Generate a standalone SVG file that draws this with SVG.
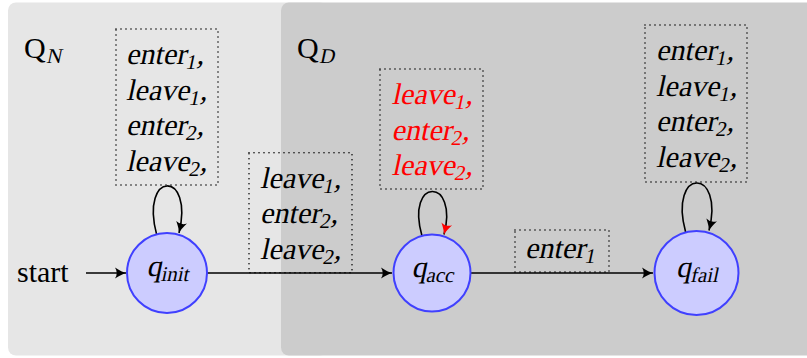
<svg xmlns="http://www.w3.org/2000/svg" width="807" height="358" viewBox="0 0 807 358">
<style>
.t{font-family:"Liberation Serif","Times New Roman",serif;font-size:30px;font-style:normal;fill:#000}
.r{font-family:"Liberation Serif","Times New Roman",serif;font-size:30px;fill:#000}
.s{font-size:21px}
.red{fill:#ff0000}
.box{fill:none;stroke:#000;stroke-width:1.6;stroke-linecap:round;stroke-dasharray:0 5}
.node{fill:#ccccff;stroke:#4040ff;stroke-width:2}
.edge{fill:none;stroke:#000;stroke-width:1.6}
</style>
<defs>
<marker id="ah" viewBox="-12 -6 13 12" markerWidth="13" markerHeight="12" refX="0" refY="0" orient="auto" markerUnits="userSpaceOnUse">
<path d="M-11,-5.5 Q-4,-1 0,0 Q-4,1 -11,5.5 Q-7.5,0 -11,-5.5 z" fill="#000"/>
</marker>
<marker id="ahr" viewBox="-12 -6 13 12" markerWidth="13" markerHeight="12" refX="0" refY="0" orient="auto" markerUnits="userSpaceOnUse">
<path d="M-11,-5.5 Q-4,-1 0,0 Q-4,1 -11,5.5 Q-7.5,0 -11,-5.5 z" fill="#ff0000"/>
</marker>
</defs>
<g id="backgrounds">
<rect x="8" y="2.5" width="320" height="353" rx="8" fill="#e6e6e6"/>
<rect x="281" y="2.5" width="540" height="353" rx="8" fill="#cccccc"/>
<text class="r" x="24" y="58">Q</text>
<text class="t s" transform="translate(46,63) skewX(-12)">N</text>
<text class="r" x="297" y="58">Q</text>
<text class="t s" transform="translate(319,63) skewX(-12)">D</text>
</g>
<g id="connectors">
<line class="edge" x1="86" y1="273" x2="126" y2="273" marker-end="url(#ah)"/>
<line class="edge" x1="207" y1="273" x2="392" y2="273" marker-end="url(#ah)"/>
<line class="edge" x1="470.5" y1="273" x2="653" y2="273" marker-end="url(#ah)"/>
<path class="edge" d="M156.6,234.4 C139.6,170 194.4,170 179,233" marker-end="url(#ah)"/>
<path class="edge" d="M422,236 C405,177 459,177 444,234.5" stroke="#ff0000" marker-end="url(#ahr)"/>
<path class="edge" d="M685.6,232 C668,167 725,167 709,230.5" marker-end="url(#ah)"/>
</g>
<g id="label-init-loop">
<rect class="box" x="116" y="29" width="102" height="156"/>
<text class="t" transform="translate(126,64) skewX(-12)">enter<tspan class="s" dy="5">1</tspan><tspan dy="-5">,</tspan></text>
<text class="t" transform="translate(126,99.5) skewX(-12)">leave<tspan class="s" dy="5">1</tspan><tspan dy="-5">,</tspan></text>
<text class="t" transform="translate(126,135) skewX(-12)">enter<tspan class="s" dy="5">2</tspan><tspan dy="-5">,</tspan></text>
<text class="t" transform="translate(126,170.5) skewX(-12)">leave<tspan class="s" dy="5">2</tspan><tspan dy="-5">,</tspan></text>
</g>
<g id="label-init-acc">
<rect class="box" x="249" y="152.7" width="103" height="120"/>
<text class="t" transform="translate(260,187.7) skewX(-12)">leave<tspan class="s" dy="5">1</tspan><tspan dy="-5">,</tspan></text>
<text class="t" transform="translate(260,223.2) skewX(-12)">enter<tspan class="s" dy="5">2</tspan><tspan dy="-5">,</tspan></text>
<text class="t" transform="translate(260,258.7) skewX(-12)">leave<tspan class="s" dy="5">2</tspan><tspan dy="-5">,</tspan></text>
</g>
<g id="label-acc-loop">
<rect class="box" x="380" y="69" width="103" height="120"/>
<text class="t red" transform="translate(391.5,104) skewX(-12)">leave<tspan class="s" dy="5">1</tspan><tspan dy="-5">,</tspan></text>
<text class="t red" transform="translate(391.5,139.5) skewX(-12)">enter<tspan class="s" dy="5">2</tspan><tspan dy="-5">,</tspan></text>
<text class="t red" transform="translate(391.5,175) skewX(-12)">leave<tspan class="s" dy="5">2</tspan><tspan dy="-5">,</tspan></text>
</g>
<g id="label-fail-loop">
<rect class="box" x="645" y="25" width="102" height="157"/>
<text class="t" transform="translate(656,60) skewX(-12)">enter<tspan class="s" dy="5">1</tspan><tspan dy="-5">,</tspan></text>
<text class="t" transform="translate(656,95.5) skewX(-12)">leave<tspan class="s" dy="5">1</tspan><tspan dy="-5">,</tspan></text>
<text class="t" transform="translate(656,131) skewX(-12)">enter<tspan class="s" dy="5">2</tspan><tspan dy="-5">,</tspan></text>
<text class="t" transform="translate(656,166.5) skewX(-12)">leave<tspan class="s" dy="5">2</tspan><tspan dy="-5">,</tspan></text>
</g>
<g id="label-acc-fail">
<rect class="box" x="515" y="230" width="94" height="42"/>
<text class="t" transform="translate(525,258) skewX(-12)">enter<tspan class="s" dy="5">1</tspan></text>
</g>
<g id="start">
<text class="r" x="17" y="282">start</text>
</g>
<g id="q_init">
<circle class="node" cx="167" cy="273" r="40"/>
<text class="t" transform="translate(168,276) skewX(-12)" text-anchor="middle">q<tspan class="s" dy="5">init</tspan></text>
</g>
<g id="q_acc">
<circle class="node" cx="432" cy="273" r="38.5"/>
<text class="t" transform="translate(433,277) skewX(-12)" text-anchor="middle">q<tspan class="s" dy="5">acc</tspan></text>
</g>
<g id="q_fail">
<circle class="node" cx="696.5" cy="273" r="42"/>
<text class="t" transform="translate(697.5,277) skewX(-12)" text-anchor="middle">q<tspan class="s" dy="5">fail</tspan></text>
</g>
</svg>
